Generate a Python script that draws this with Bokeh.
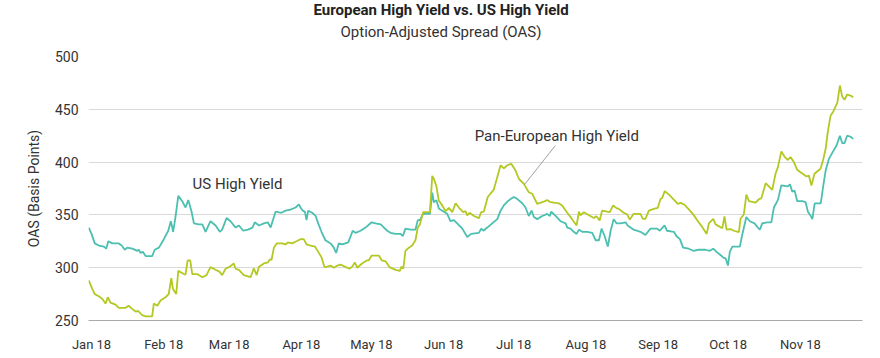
from bokeh.plotting import figure
from bokeh.models import FixedTicker, Label, Range1d, Title
from bokeh.embed import file_html
from bokeh.resources import INLINE

# x values are days since 1 Jan 2018
MONTH_TICKS = [0, 31, 59, 90, 120, 151, 181, 212, 243, 273, 304]
MONTH_LABELS = ["Jan 18", "Feb 18", "Mar 18", "Apr 18", "May 18", "Jun 18",
                "Jul 18", "Aug 18", "Sep 18", "Oct 18", "Nov 18"]
Y_TICKS = [250, 300, 350, 400, 450, 500]

US_DAYS = [-1.2, 0.0, 1.4, 3.1, 5.3, 6.3, 7.2, 8.9, 11.7, 12.9,
           14.3, 15.3, 17.5, 19.6, 20.3, 21.0, 22.0, 23.2, 26.0, 27.1,
           28.9, 31.0, 32.9, 34.0, 35.0, 36.0, 37.2, 38.9, 40.3, 41.5,
           42.9, 43.9, 46.0, 47.5, 48.9, 51.0, 53.2, 55.0, 56.0, 57.9,
           59.6, 61.8, 63.2, 65.1, 67.1, 69.0, 70.0, 71.8, 73.9, 75.6,
           76.8, 78.9, 81.4, 83.2, 85.3, 87.5, 88.9, 89.6, 90.6, 91.5,
           92.2, 92.9, 94.6, 96.1, 97.2, 98.6, 100.3, 102.5, 103.9, 104.9,
           106.0, 107.5, 110.1, 112.0, 113.2, 115.4, 117.5, 120.1, 121.8, 124.0,
           125.4, 126.8, 128.2, 130.4, 132.5, 133.5, 134.6, 136.8, 138.9, 139.9,
           140.8, 142.2, 145.1, 146.1, 146.8, 147.9, 148.9, 150.4, 152.5, 153.9,
           155.4, 156.8, 159.0, 161.1, 162.8, 166.1, 167.1, 168.0, 169.7, 171.8,
           174.0, 175.4, 176.8, 178.5, 179.7, 181.1, 182.6, 184.7, 186.1, 187.5,
           188.7, 189.7, 191.1, 193.3, 195.4, 196.5, 197.1, 199.0, 201.1, 203.3,
           204.0, 205.4, 206.8, 208.0, 209.0, 210.4, 212.6, 214.7, 216.2, 217.6,
           218.7, 220.0, 221.4, 222.6, 223.9, 225.1, 226.8, 229.0, 229.9, 232.5,
           235.4, 237.5, 239.7, 242.5, 243.7, 245.7, 246.8, 249.7, 250.8, 252.3,
           253.7, 256.1, 258.0, 260.4, 263.3, 265.1, 266.6, 268.0, 269.7, 271.2,
           271.9, 272.9, 273.7, 274.8, 278.0, 279.0, 280.8, 282.3, 284.3, 285.7,
           286.6, 287.6, 289.7, 291.5, 292.6, 294.3, 295.8, 298.6, 299.5, 300.5,
           301.5, 302.6, 304.8, 306.2, 307.2, 308.4, 309.1, 310.1, 312.7, 313.8,
           314.8, 316.2, 317.7, 319.5, 320.9, 321.9, 322.9, 324.0, 325.5, 326.6]
US_OAS = [338, 332, 323, 321, 320, 318, 325, 323, 323, 321,
          317, 319, 318, 316, 317, 314, 315, 311, 311, 317,
          319, 327, 335, 344, 334, 348, 368, 363, 357, 364,
          353, 342, 341, 341, 334, 344, 340, 334, 336, 347,
          344, 338, 340, 335, 336, 338, 343, 340, 342, 343,
          338, 353, 352, 354, 355, 357, 360, 357, 354, 353,
          345, 354, 352, 349, 342, 334, 326, 323, 319, 314,
          323, 322, 324, 335, 333, 335, 338, 343, 342, 341,
          338, 335, 333, 332, 332, 330, 337, 336, 336, 345,
          345, 351, 351, 371, 362, 364, 356, 354, 351, 344,
          345, 342, 337, 329, 332, 333, 337, 335, 338, 342,
          346, 354, 359, 363, 365, 367, 365, 361, 357, 349,
          354, 348, 346, 349, 351, 349, 353, 349, 344, 342,
          338, 337, 334, 332, 336, 334, 334, 333, 326, 326,
          337, 330, 320, 335, 346, 342, 342, 343, 340, 336,
          334, 331, 337, 337, 335, 340, 335, 334, 330, 327,
          319, 318, 316, 317, 317, 316, 318, 315, 312, 309,
          309, 302, 315, 320, 320, 331, 348, 344, 342, 338,
          336, 342, 343, 343, 357, 364, 378, 377, 379, 372,
          373, 363, 363, 362, 353, 349, 346, 361, 361, 378,
          392, 403, 409, 416, 425, 418, 418, 425, 424, 422]

EU_DAYS = [-1.2, 0.3, 1.4, 3.1, 4.6, 6.0, 7.0, 8.1, 10.3, 11.7,
           14.6, 15.9, 17.4, 18.9, 20.0, 21.7, 23.2, 26.0, 26.7, 28.2,
           29.6, 31.7, 33.1, 34.2, 34.9, 36.3, 37.2, 39.6, 40.3, 41.2,
           42.3, 43.2, 45.3, 47.5, 49.3, 51.0, 53.2, 55.0, 56.0, 57.5,
           59.3, 61.0, 61.8, 63.2, 65.3, 68.2, 69.6, 70.8, 71.8, 73.9,
           75.6, 76.5, 77.2, 78.2, 79.4, 81.8, 83.2, 84.2, 86.0, 87.9,
           89.6, 91.0, 92.2, 93.9, 95.8, 97.2, 98.6, 99.9, 101.1, 102.5,
           103.9, 105.4, 106.8, 108.6, 110.6, 111.8, 112.9, 113.9, 116.0, 118.2,
           118.9, 120.1, 123.2, 124.4, 126.1, 127.8, 130.4, 132.2, 132.9, 133.7,
           134.6, 136.1, 137.5, 138.9, 139.9, 140.8, 142.2, 145.1, 146.1, 146.8,
           147.9, 148.9, 150.4, 151.8, 153.2, 154.7, 156.1, 157.5, 159.4, 160.4,
           161.1, 162.1, 164.0, 166.1, 167.1, 168.2, 169.9, 172.5, 174.0, 175.4,
           176.8, 178.3, 180.0, 181.8, 183.3, 185.4, 187.5, 189.0, 191.1, 193.3,
           195.4, 196.8, 200.4, 201.8, 204.0, 205.4, 208.0, 209.0, 209.7, 211.1,
           213.3, 215.4, 216.5, 217.9, 218.9, 221.1, 222.2, 223.7, 225.1, 226.1,
           228.2, 229.7, 230.8, 232.5, 235.4, 236.4, 237.5, 239.0, 241.1, 242.8,
           244.0, 244.7, 245.8, 247.5, 249.7, 251.4, 252.6, 254.3, 256.6, 258.0,
           259.8, 261.9, 263.8, 264.7, 266.6, 267.6, 270.5, 271.4, 272.3, 274.0,
           275.4, 277.6, 278.3, 279.7, 280.8, 281.9, 284.8, 286.2, 287.2, 289.1,
           291.9, 293.3, 294.3, 295.8, 297.2, 298.6, 299.7, 301.2, 302.6, 304.0,
           305.4, 306.6, 307.6, 308.7, 310.0, 312.6, 313.7, 314.8, 315.7, 316.9,
           318.1, 319.8, 320.9, 321.9, 322.9, 324.0, 325.5, 326.6]
EU_OAS = [288, 280, 275, 273, 270.5, 266, 272, 267, 265, 262,
          262, 264, 261, 258.5, 259, 255, 254, 254, 266, 264,
          269, 272, 275, 290, 280, 275, 297, 294, 293.5, 307,
          307, 294, 294, 291, 293, 300.5, 298, 296, 293, 299,
          301, 304, 299, 298, 293, 291, 299.5, 293, 301, 304,
          305, 308, 307.5, 319, 323, 323, 322, 324, 323, 325,
          327, 327, 322, 321, 320, 315, 310, 300.5, 301, 302,
          300, 302, 303, 301, 299, 301, 305, 300, 304, 307,
          307, 311.5, 311.5, 307, 306, 300.5, 298, 297, 301, 299,
          316, 319, 321, 326, 338, 341, 352.6, 352.6, 387, 384,
          377, 363.6, 359, 353.5, 356.7, 352.6, 361, 357, 352.6, 353.5,
          349.5, 352, 349, 347, 352.6, 353, 367, 374, 386, 397,
          394, 397, 398.4, 392, 384, 379.4, 371.5, 370, 360.5, 362,
          364, 362, 361, 359, 352, 348, 340, 353, 349.6, 352.6,
          349.6, 347, 348.7, 344.7, 354, 353, 352.6, 359, 356.4, 355.7,
          352, 350.5, 345.6, 351, 351, 346.3, 346.3, 354, 355.7, 356.7,
          365, 366, 372.5, 369.4, 364.5, 360.5, 361.4, 359.6, 354, 350.5,
          344.7, 338.4, 332, 342, 346.3, 341, 337.4, 348.5, 336, 336.6,
          335, 333.6, 346.3, 350.4, 369.3, 363, 361.6, 365, 365.7, 380,
          373.7, 389, 395, 410, 405, 402, 404.7, 400, 392.7, 390.4,
          388.3, 386.4, 387.3, 377.8, 389, 393.7, 402, 412.6, 428.3, 444,
          448, 456, 472.5, 462, 459, 464, 463, 461.5]

TITLE = "European High Yield vs. US High Yield"
SUBTITLE = "Option-Adjusted Spread (OAS)"
Y_LABEL = "OAS (Basis Points)"
US_NAME = "US High Yield"
EU_NAME = "Pan-European High Yield"

US_COLOR = "#4bbfb0"
EU_COLOR = "#b4c823"
TEXT_COLOR = "#333333"
FONT = "Roboto"

p = figure(width=872, height=354, output_backend="svg", toolbar_location=None,
           x_range=Range1d(-1.3, 330.6), y_range=Range1d(250, 500),
           min_border_left=88, min_border_right=10, min_border_top=56,
           min_border_bottom=34)
p.outline_line_color = None
p.background_fill_color = "white"
p.border_fill_color = "white"

# titles: main title is the figure title (outermost); a blank spacer sits
# next to the plot and the subtitle between them
p.title.text = TITLE
p.title.align = "left"
p.title.vertical_align = "top"
p.title.offset = 225
p.title.text_font = FONT
p.title.text_font_size = "15px"
p.title.text_font_style = "bold"
p.title.text_color = "#222222"
p.title.standoff = 0
spacer = Title(text=" ", text_font_size="2px", standoff=12)
p.add_layout(spacer, "above")
sub_title = Title(text=SUBTITLE, align="left", offset=252, text_font=FONT,
                  text_font_size="15px", text_font_style="normal",
                  text_color=TEXT_COLOR, standoff=0)
p.add_layout(sub_title, "above")

p.line(US_DAYS, US_OAS, line_color=US_COLOR, line_width=1.8)
p.line(EU_DAYS, EU_OAS, line_color=EU_COLOR, line_width=1.8)

# leader line for the European label
p.segment(x0=[185.7], y0=[378.8], x1=[198.9], y1=[415.7],
          line_color="#888888", line_width=0.8)

p.add_layout(Label(x=62.6, y=378.8, text=US_NAME, text_align="center",
                   text_baseline="middle", text_font=FONT,
                   text_font_size="15px", text_color=TEXT_COLOR))
p.add_layout(Label(x=199.5, y=424.5, text=EU_NAME, text_align="center",
                   text_baseline="middle", text_font=FONT,
                   text_font_size="15px", text_color=TEXT_COLOR))

# axes
p.xaxis.ticker = FixedTicker(ticks=MONTH_TICKS)
p.xaxis.major_label_overrides = {t: l for t, l in zip(MONTH_TICKS, MONTH_LABELS)}
p.xaxis.axis_line_color = "#aaaaaa"
p.xaxis.axis_line_width = 1.2
p.xaxis.major_tick_line_color = None
p.xaxis.minor_tick_line_color = None
p.xaxis.major_tick_out = 0
p.xaxis.minor_tick_out = 0
p.xaxis.major_label_standoff = 16
p.xaxis.major_label_text_font = FONT
p.xaxis.major_label_text_font_size = "13px"
p.xaxis.major_label_text_color = TEXT_COLOR

p.yaxis.ticker = FixedTicker(ticks=Y_TICKS)
p.yaxis.axis_line_color = None
p.yaxis.major_tick_line_color = None
p.yaxis.minor_tick_line_color = None
p.yaxis.major_tick_out = 0
p.yaxis.minor_tick_out = 0
p.yaxis.major_label_standoff = 10
p.yaxis.major_label_text_font = FONT
p.yaxis.major_label_text_font_size = "14px"
p.yaxis.major_label_text_color = TEXT_COLOR
p.yaxis.axis_label = Y_LABEL
p.yaxis.axis_label_text_font = FONT
p.yaxis.axis_label_text_font_size = "14px"
p.yaxis.axis_label_text_font_style = "normal"
p.yaxis.axis_label_text_color = TEXT_COLOR
p.yaxis.axis_label_standoff = 10

p.xgrid.grid_line_color = None
p.ygrid.grid_line_color = "#d9d9d9"
p.ygrid.grid_line_width = 1

open("out.html", "w").write(file_html(p, INLINE))
